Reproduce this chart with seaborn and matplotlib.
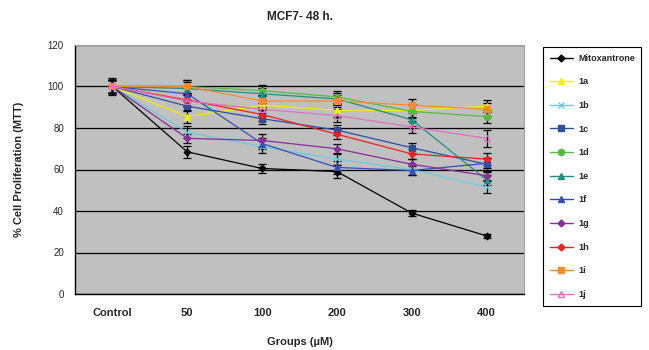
import matplotlib
matplotlib.use("Agg")
import matplotlib.pyplot as plt
from matplotlib.lines import Line2D
import seaborn as sns
import numpy as np

groups = ["Control", "50", "100", "200", "300", "400"]
series_names = ["Mitoxantrone", "1a", "1b", "1c", "1d", "1e", "1f", "1g", "1h", "1i", "1j"]

mitoxantrone = [100, 68.5, 60.5, 59, 39, 28]
v_1a = [100, 85.5, 91, 88.5, 88.5, 90.5]
v_1b = [100, 78, 71, 65, 60, 51.5]
v_1c = [100, 90.5, 84.5, 79, 70.5, 62.5]
v_1d = [100, 100, 98, 95, 88, 85.5]
v_1e = [100, 99, 96.5, 94, 84, 55]
v_1f = [100, 96.5, 72.5, 61, 59.5, 63]
v_1g = [100, 75, 74, 70, 62.5, 57]
v_1h = [100, 93.5, 86.5, 77, 67.5, 65]
v_1i = [100, 100, 93, 93, 91, 89]
v_1j = [100, 93, 89, 86, 80.5, 75]

err_mitox = [4, 3, 2, 3, 1.5, 1]
err_1a = [3, 3, 2.5, 3, 3, 3]
err_1b = [3, 3, 3, 3, 2.5, 3]
err_1c = [3, 2.5, 2.5, 2.5, 2.5, 3]
err_1d = [3, 3, 2.5, 3, 3, 3]
err_1e = [3, 3, 3, 3, 3, 2.5]
err_1f = [3, 3, 2.5, 3, 2, 2.5]
err_1g = [3, 2, 3, 2.5, 2.5, 2]
err_1h = [3, 3, 3, 2.5, 2.5, 3]
err_1i = [3, 3, 3, 3, 3, 3]
err_1j = [3, 3, 3, 3, 3, 4]

values = [mitoxantrone, v_1a, v_1b, v_1c, v_1d, v_1e, v_1f, v_1g, v_1h, v_1i, v_1j]
errors = [err_mitox, err_1a, err_1b, err_1c, err_1d, err_1e, err_1f, err_1g, err_1h, err_1i, err_1j]

colors = ["#000000", "#F0F000", "#66CCE0", "#2E4FA0", "#55BB44", "#1E9080",
          "#3050B8", "#882D99", "#EE2020", "#FF8A2A", "#E070C0"]
markers = ["D", "^", "x", "s", "o", "^", "^", "D", "D", "s", "^"]
msizes = [3.5, 4.5, 4.5, 4.5, 4.5, 4.5, 4.5, 3.5, 3.5, 4.5, 4.5]

sns.set_style("white")
plt.rcParams["font.family"] = ["Liberation Sans", "DejaVu Sans"]

fig = plt.figure(figsize=(6.49, 3.5), dpi=100)
ax = fig.add_axes([75 / 649, 1 - 294 / 350, (524 - 75) / 649, (294 - 45) / 350])
ax.set_facecolor("#C0C0C0")

x = np.arange(len(groups))
handles = []
for name, vals, errs, c, m, ms in zip(series_names, values, errors, colors, markers, msizes):
    ax.errorbar(x, vals, yerr=errs, fmt="none", ecolor="black", elinewidth=0.9,
                capsize=3, capthick=0.9, zorder=3)
    mfc = c if name != "1j" else "none"
    sns.lineplot(x=x, y=vals, color=c, marker=m, markersize=ms, markeredgecolor=c,
                 markerfacecolor=mfc, linewidth=0.9, ax=ax, zorder=4,
                 label=name, legend=False)
    handles.append(Line2D([0], [0], color=c, marker=m, markersize=ms,
                          markeredgecolor=c, markerfacecolor=mfc,
                          linewidth=1.0, label=name))

ax.set_xlim(-0.5, 5.5)
ax.set_ylim(0, 120)
ax.set_yticks(np.arange(0, 121, 20))
ax.yaxis.grid(True, color="black", linewidth=0.9)
ax.set_axisbelow(True)

ax.set_xticks(np.arange(-0.5, 5.6, 1))
ax.set_xticklabels([])
ax.set_xticks(x, minor=True)
ax.set_xticklabels(groups, minor=True, fontsize=8, fontweight="bold")
ax.tick_params(axis="x", which="major", length=4, width=0.8, color="black", direction="out")
ax.tick_params(axis="x", which="minor", length=0, pad=10)
ax.tick_params(axis="y", length=4, width=0.8, color="black", direction="out", labelsize=7, pad=4)

for s in ["left", "bottom"]:
    ax.spines[s].set_color("black")
    ax.spines[s].set_linewidth(1.0)
for s in ["top", "right"]:
    ax.spines[s].set_color("#A0A0A0")
    ax.spines[s].set_linewidth(0.8)

ax.set_xlabel("Groups (\u00b5M)", fontsize=8, fontweight="bold", labelpad=14)
ax.set_ylabel("% Cell Proliferation (MTT)", fontsize=8, fontweight="bold", labelpad=17)
ax.set_title("MCF7- 48 h.", fontsize=8.5, fontweight="bold", pad=18)

leg = fig.legend(handles=handles, loc="upper left",
                 bbox_to_anchor=(538 / 649, 1 - 42 / 350, (646 - 538) / 649, 0.0),
                 mode="expand", frameon=True, fancybox=False, edgecolor="black",
                 facecolor="white", framealpha=1, prop={"size": 6.5, "weight": "bold"},
                 labelspacing=1.62, handlelength=2.6, borderpad=0.8, handletextpad=0.6)
leg.get_frame().set_linewidth(0.8)

fig.savefig("out.png", dpi=100)
